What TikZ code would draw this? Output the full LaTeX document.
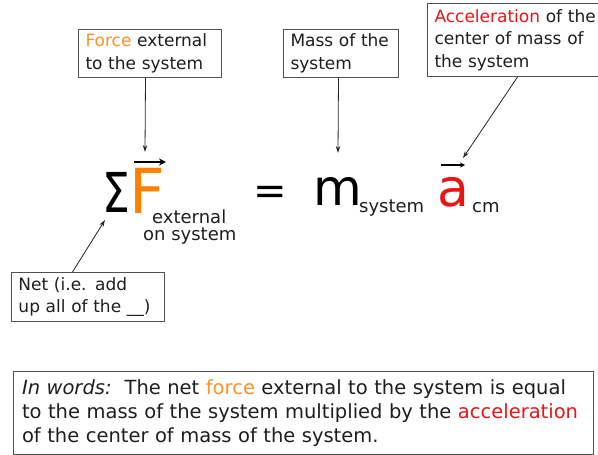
\documentclass[tikz,border=0pt]{standalone}
\usepackage{fontspec}
\usepackage{graphicx}
\setmainfont{DejaVu Sans}
\usetikzlibrary{arrows.meta}
\definecolor{forange}{RGB}{255,128,0}
\definecolor{torange}{RGB}{255,145,40}
\definecolor{ared}{RGB}{235,20,20}
\definecolor{txt}{RGB}{30,30,30}
\definecolor{edge}{RGB}{80,80,80}
\begin{document}
\begin{tikzpicture}[x=1pt,y=-1pt,
  box/.style={draw=edge, line width=1pt, anchor=north west, align=left, inner xsep=7pt, inner ysep=0pt, font=\fontsize{17}{22.5}\selectfont, text=txt},
  arr/.style={draw=black!85, line width=0.8pt, -{Stealth[length=7pt,width=4.5pt]}},
  sub/.style={anchor=base west, inner sep=0pt, text depth=0pt, font=\fontsize{18}{18}\selectfont, text=txt},
  big/.style={anchor=base west, inner sep=0pt, text depth=0pt}]
\useasboundingbox (0,0) rectangle (598,455);

% label boxes
\node[box, minimum width=143pt, minimum height=48pt, text width=129pt] (b1) at (78,29)
  {\textcolor{torange}{Force} external\\to the system};
\node[box, minimum width=115pt, minimum height=48pt, text width=101pt] (b2) at (283,29)
  {Mass of the\\system};
\node[box, minimum width=176pt, minimum height=73pt, text width=162pt] (b3) at (427,3)
  {\textcolor{ared}{Acceleration} of the\\center of mass of\\the system};
\node[box, minimum width=153pt, minimum height=49pt, text width=139pt] (b4) at (11,272)
  {Net (i.e. add\\up all of the \_\_)};
\node[box, minimum width=580pt, minimum height=83pt, text width=562pt, inner xsep=9pt,
  font=\fontsize{19.5}{24}\selectfont] (b5) at (12.5,371)
  {\textit{In words:}\ \ The net \textcolor{torange}{force} external to the system is equal\\
   to the mass of the system multiplied by the \textcolor{ared}{acceleration}\\
   of the center of mass of the system.};

% equation
\node[big, font=\fontsize{55}{55}\selectfont] (sig) at (102,212) {\scalebox{0.8}[1]{Σ}};
\node[big, font=\fontsize{62}{62}\selectfont, text=forange] (F) at (129,213) {\makebox[22pt][l]{F}};
\node[sub] (ext) at (152,223) {external};
\node[sub] (onsys) at (143,240) {on system};
\node[anchor=base, inner sep=0pt, text depth=0pt, font=\fontsize{40}{40}\selectfont] (eq) at (270,204) {=};
\node[big, font=\fontsize{50}{50}\selectfont] (m) at (313,205) {m};
\node[sub] (msys) at (359,212) {system};
\node[big, font=\fontsize{52}{52}\selectfont, text=ared] (a) at (437,206) {a};
\node[sub] (cm) at (472,212) {cm};

% vector arrows
\coordinate (vF1) at (134,162);
\coordinate (vF2) at (166,162);
\draw[line width=2.6pt, -{Stealth[length=7pt,width=7pt]}] (vF1) -- (vF2);
\coordinate (va1) at (441,165);
\coordinate (va2) at (465,165);
\draw[line width=1.8pt, -{Stealth[length=5pt,width=5pt]}] (va1) -- (va2);

% connectors
\coordinate (t1) at (145,152);
\coordinate (t2) at (338,153);
\coordinate (t3) at (463,158);
\coordinate (t4) at (105,220);
\draw[arr] ([xshift=-4.5pt]b1.south) -- (t1);
\draw[arr] ([xshift=-2.5pt]b2.south) -- (t2);
\draw[arr] ([xshift=2pt]b3.south) -- (t3);
\draw[arr] ([xshift=-15.5pt]b4.north) -- (t4);
\end{tikzpicture}
\end{document}
